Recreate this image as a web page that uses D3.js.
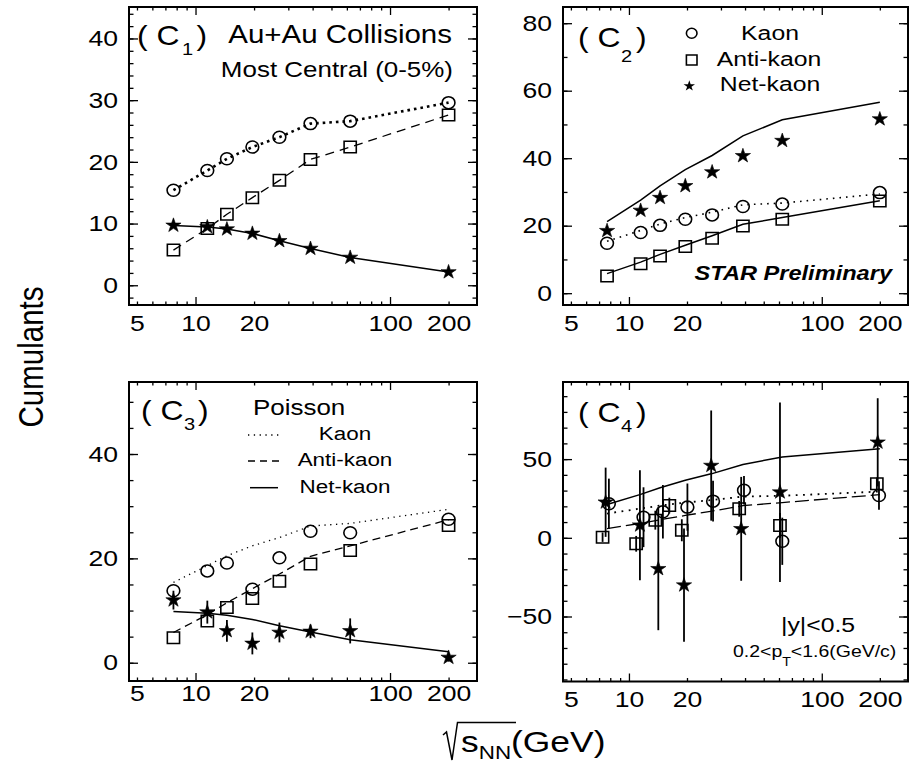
<!DOCTYPE html>
<html>
<head>
<meta charset="utf-8">
<script src="https://cdn.jsdelivr.net/npm/d3@7"></script>
<style>
  html, body { margin: 0; padding: 0; background: #fff; }
  svg text { font-family: "Liberation Sans", Arial, Helvetica, sans-serif; fill: #000; }
</style>
</head>
<body>
<svg id="chart" width="915" height="764"></svg>
<script>
// beam energies (GeV)
var energies = [7.7, 11.5, 14.5, 19.6, 27, 39, 62.4, 200];

// C1
var c1Kaon = [15.4, 18.6, 20.5, 22.4, 24.0, 26.2, 26.6, 29.6];
var c1AntiKaon = [5.7, 9.2, 11.5, 14.2, 17.0, 20.4, 22.4, 27.6];
var c1NetKaon = [9.7, 9.45, 9.1, 8.4, 7.2, 5.95, 4.5, 2.15];

// C2
var c2Kaon = [14.8, 18.0, 20.1, 21.9, 23.2, 25.7, 26.4, 29.8];
var c2AntiKaon = [5.1, 8.7, 11.0, 13.8, 16.3, 19.9, 21.9, 27.3];
var c2NetKaon = [18.5, 24.5, 28.3, 31.8, 35.9, 40.7, 45.2, 51.6];

// C3
var c3Kaon = [13.8, 17.6, 19.1, 14.1, 20.1, 25.2, 24.9, 27.5];
var c3AntiKaon = [4.8, 8.0, 10.6, 12.3, 15.6, 18.9, 21.5, 26.3];
var c3NetKaon = [12.0, 9.7, 6.1, 3.7, 5.8, 6.0, 6.1, 1.0];
var c3NetKaonErr = [1.8, 2.2, 2.1, 2.1, 1.9, 1.3, 2.4, 0.8];

// C4 (points drawn slightly shifted in energy)
var c4KaonE = [7.87, 11.9, 15.0, 20.1, 27.3, 39.5, 62.4, 198];
var c4Kaon = [21.6, 13.1, 16.5, 19.5, 23.3, 30.2, -2.2, 26.9];
var c4KaonErr = [16, 19, 17, 15, 13, 9, 15, 9];
var c4AntiKaonE = [7.3, 10.9, 13.7, 16.2, 18.8, 37.3, 60.7, 193];
var c4AntiKaon = [0.4, -3.8, 11.2, 20.5, 4.8, 18.4, 7.8, 34.3];
var c4AntiKaonErr = [3, 5, 6, 5, 7, 5, 8, 4];
var c4NetKaonE = [7.57, 11.4, 14.2, 19.3, 26.7, 38.2, 60.7, 195];
var c4NetKaon = [22.6, 8.0, -19.7, -30.1, 45.9, 5.7, 29.0, 60.7];
var c4NetKaonErr = [22, 35, 39, 36, 35, 33, 57, 28];

// Poisson baselines
var poissonKaon = [15.4, 18.6, 20.5, 22.4, 24.0, 26.2, 26.7, 29.4];
var poissonAntiKaon = [5.8, 9.2, 11.5, 14.2, 17.0, 20.4, 22.4, 27.4];
var poissonNetOdd = [9.8, 9.5, 9.1, 8.3, 7.1, 5.9, 4.4, 2.1];
var poissonNetEven = [21.2, 27.6, 31.8, 36.6, 40.8, 46.6, 51.4, 56.6];

// axis ticks
var xDomain = [4.55, 280];
var xTickLabels = [5, 10, 20, 100, 200];
var xMajorTicks = [10, 100];
var xMinorTicks = [5, 6, 7, 8, 9, 20, 30, 40, 50, 60, 70, 80, 90, 200];

var SX = 1.18; // the original figure is stretched sideways

var svg = d3.select('#chart');

var panels = [
  { left: 129, right: 477, top: 7, bottom: 305, yDomain: [-3.2, 45.1], yLabels: [0, 10, 20, 30, 40], yStep: 2, xPad: 10,
    tag: { x: 137, y: 45, n: '1', nx: 182, ny: 55, cx: 196.5 } },
  { left: 563, right: 908, top: 7, bottom: 305, yDomain: [-3.5, 84.8], yLabels: [0, 20, 40, 60, 80], yStep: 10, xPad: 10,
    tag: { x: 578, y: 46.5, n: '2', nx: 621, ny: 62, cx: 636 } },
  { left: 129, right: 477, top: 382, bottom: 681, yDomain: [-3.5, 53.8], yLabels: [0, 20, 40], yStep: 5, xPad: 3.6,
    tag: { x: 141, y: 420, n: '3', nx: 184, ny: 430, cx: 198 } },
  { left: 563, right: 908, top: 382, bottom: 681.5, yDomain: [-91.3, 99], yLabels: [-50, 0, 50], yStep: 10, xPad: 9.3,
    tag: { x: 578, y: 421.5, n: '4', nx: 621, ny: 432, cx: 636 } }
];

function text(g, x, y, str, size, anchor) {
  return g.append('text')
    .attr('transform', 'translate(' + x + ',' + y + ') scale(' + SX + ',1)')
    .attr('font-size', size)
    .attr('text-anchor', anchor || 'start')
    .text(str);
}

function styleAxis(sel) {
  sel.select('.domain').remove();
  sel.attr('font-size', 22.5).attr('font-family', null);
  sel.selectAll('line').attr('stroke-width', 1.3);
  sel.selectAll('text').attr('transform', 'scale(' + SX + ',1)');
}

function setup(p) {
  p.g = svg.append('g');
  p.x = d3.scaleLog().domain(xDomain).range([p.left, p.right]);
  p.y = d3.scaleLinear().domain(p.yDomain).range([p.bottom, p.top]);
  var g = p.g;
  var yMinor = d3.range(Math.ceil(p.yDomain[0] / p.yStep) * p.yStep, p.yDomain[1], p.yStep);

  // bottom / top
  g.append('g').attr('transform', 'translate(0,' + p.bottom + ')')
    .call(d3.axisBottom(p.x).tickValues(xMinorTicks).tickSize(-3.5).tickFormat('')).call(styleAxis);
  g.append('g').attr('transform', 'translate(0,' + p.bottom + ')')
    .call(d3.axisBottom(p.x).tickValues(xMajorTicks).tickSize(-8).tickFormat('')).call(styleAxis);
  g.append('g').attr('transform', 'translate(0,' + p.bottom + ')')
    .call(d3.axisBottom(p.x).tickValues(xTickLabels).tickSize(0).tickPadding(p.xPad).tickFormat(d3.format('d'))).call(styleAxis);
  g.append('g').attr('transform', 'translate(0,' + p.top + ')')
    .call(d3.axisTop(p.x).tickValues(xMinorTicks).tickSize(-3.5).tickFormat('')).call(styleAxis);
  g.append('g').attr('transform', 'translate(0,' + p.top + ')')
    .call(d3.axisTop(p.x).tickValues(xMajorTicks).tickSize(-8).tickFormat('')).call(styleAxis);

  // left / right
  g.append('g').attr('transform', 'translate(' + p.left + ',0)')
    .call(d3.axisLeft(p.y).tickValues(yMinor).tickSize(-4.5).tickFormat('')).call(styleAxis);
  g.append('g').attr('transform', 'translate(' + p.left + ',0)')
    .call(d3.axisLeft(p.y).tickValues(p.yLabels).tickSize(-9).tickPadding(11 / SX).tickFormat(d3.format('d'))).call(styleAxis);
  g.append('g').attr('transform', 'translate(' + p.right + ',0)')
    .call(d3.axisRight(p.y).tickValues(yMinor).tickSize(-4.5).tickFormat('')).call(styleAxis);
  g.append('g').attr('transform', 'translate(' + p.right + ',0)')
    .call(d3.axisRight(p.y).tickValues(p.yLabels).tickSize(-9).tickFormat('')).call(styleAxis);

  g.append('rect')
    .attr('x', p.left).attr('y', p.top)
    .attr('width', p.right - p.left).attr('height', p.bottom - p.top)
    .attr('fill', 'none').attr('stroke', '#000').attr('stroke-width', 2);

  // ( Cn ) tag
  var t = p.tag;
  text(g, t.x, t.y, '( C', 27);
  text(g, t.nx, t.ny, t.n, 17);
  text(g, t.cx, t.y, ')', 27);
}

function line(p, xs, ys, width, dash) {
  var gen = d3.line().x(function(d) { return p.x(d[0]); }).y(function(d) { return p.y(d[1]); });
  p.g.append('path')
    .attr('d', gen(d3.zip(xs, ys)))
    .attr('fill', 'none').attr('stroke', '#000')
    .attr('stroke-width', width)
    .attr('stroke-dasharray', dash || null);
}

var symbols = {
  circle: d3.symbol().type(d3.symbolCircle).size(Math.PI * 36)(),
  square: d3.symbol().type(d3.symbolSquare).size(11.5 * 11.5)(),
  star: d3.symbol().type(d3.symbolStar).size(64)()
};

function markers(p, xs, ys, shape, errs) {
  if (errs) {
    p.g.selectAll(null).data(d3.zip(xs, ys, errs)).enter().append('line')
      .attr('x1', function(d) { return p.x(d[0]); })
      .attr('x2', function(d) { return p.x(d[0]); })
      .attr('y1', function(d) { return p.y(d[1] - d[2]); })
      .attr('y2', function(d) { return p.y(d[1] + d[2]); })
      .attr('stroke', '#000').attr('stroke-width', 1.8);
  }
  p.g.selectAll(null).data(d3.zip(xs, ys)).enter().append('path')
    .attr('d', symbols[shape])
    .attr('transform', function(d) { return 'translate(' + p.x(d[0]) + ',' + p.y(d[1]) + ') scale(1.06,1)'; })
    .attr('fill', shape === 'star' ? '#000' : 'none')
    .attr('stroke', '#000')
    .attr('stroke-width', shape === 'star' ? 0.6 : 1.5);
}

panels.forEach(setup);
var p1 = panels[0], p2 = panels[1], p3 = panels[2], p4 = panels[3];

// C1
line(p1, energies, c1Kaon, 2.6, '2.6 4');
line(p1, energies, c1AntiKaon, 1.3, '9 6');
line(p1, energies, c1NetKaon, 1.5);
markers(p1, energies, c1Kaon, 'circle');
markers(p1, energies, c1AntiKaon, 'square');
markers(p1, energies, c1NetKaon, 'star');
text(p1.g, 452, 43.3, 'Au+Au Collisions', 25, 'end');
text(p1.g, 453, 76.7, 'Most Central (0-5%)', 22, 'end');

// C2
line(p2, energies, poissonKaon, 1.6, '1.6 5');
line(p2, energies, poissonAntiKaon, 1.5);
line(p2, energies, poissonNetEven, 1.5);
markers(p2, energies, c2Kaon, 'circle');
markers(p2, energies, c2AntiKaon, 'square');
markers(p2, energies, c2NetKaon, 'star');
// legend
var lg = p2.g;
lg.append('path').attr('d', d3.symbol().type(d3.symbolCircle).size(Math.PI * 25)())
  .attr('transform', 'translate(691.7,33.3) scale(1.06,1)').attr('fill', 'none').attr('stroke', '#000').attr('stroke-width', 1.5);
lg.append('path').attr('d', d3.symbol().type(d3.symbolSquare).size(100)())
  .attr('transform', 'translate(691.7,60) scale(1.06,1)').attr('fill', 'none').attr('stroke', '#000').attr('stroke-width', 1.5);
lg.append('path').attr('d', d3.symbol().type(d3.symbolStar).size(36)())
  .attr('transform', 'translate(689.3,86) scale(1.06,1)').attr('fill', '#000');
text(lg, 770, 40, 'Kaon', 21, 'middle');
text(lg, 769, 66.3, 'Anti-kaon', 21, 'middle');
text(lg, 770, 90.7, 'Net-kaon', 21, 'middle');
text(lg, 892, 280, 'STAR Preliminary', 20, 'end')
  .attr('font-weight', 'bold').attr('font-style', 'italic');

// C3
line(p3, energies, poissonKaon, 1.3, '1.3 4.5');
line(p3, energies, poissonAntiKaon, 1.3, '8 5');
line(p3, energies, poissonNetOdd, 1.5);
markers(p3, energies, c3Kaon, 'circle');
markers(p3, energies, c3AntiKaon, 'square');
markers(p3, energies, c3NetKaon, 'star', c3NetKaonErr);
var g3 = p3.g;
text(g3, 253, 415, 'Poisson', 22);
g3.append('line').attr('x1', 248).attr('x2', 279).attr('y1', 435).attr('y2', 435)
  .attr('stroke', '#000').attr('stroke-width', 1.3).attr('stroke-dasharray', '1.3 4.5');
g3.append('line').attr('x1', 248).attr('x2', 279).attr('y1', 461).attr('y2', 461)
  .attr('stroke', '#000').attr('stroke-width', 1.3).attr('stroke-dasharray', '7 5');
g3.append('line').attr('x1', 250).attr('x2', 278).attr('y1', 487.7).attr('y2', 487.7)
  .attr('stroke', '#000').attr('stroke-width', 1.5);
text(g3, 345, 440, 'Kaon', 19, 'middle');
text(g3, 345, 466, 'Anti-kaon', 19, 'middle');
text(g3, 345, 492.7, 'Net-kaon', 19, 'middle');

// C4
line(p4, energies, poissonNetEven, 1.5);
line(p4, energies, poissonKaon, 1.8, '1.8 5.5');
line(p4, energies, poissonAntiKaon, 1.3, '14 5');
markers(p4, c4KaonE, c4Kaon, 'circle', c4KaonErr);
markers(p4, c4AntiKaonE, c4AntiKaon, 'square', c4AntiKaonErr);
markers(p4, c4NetKaonE, c4NetKaon, 'star', c4NetKaonErr);
var g4 = p4.g;
text(g4, 781, 631.7, '|y|<0.5', 21);
var pt = g4.append('text')
  .attr('transform', 'translate(733,656.7) scale(' + SX + ',1)')
  .attr('font-size', 16.5);
pt.append('tspan').text('0.2<p');
pt.append('tspan').attr('font-size', 12).attr('dy', 9).text('T');
pt.append('tspan').attr('dy', -9).text('<1.6(GeV/c)');

// axis titles
svg.append('text')
  .attr('transform', 'translate(43,357) scale(' + SX + ',1) rotate(-90)')
  .attr('font-size', 29.5).attr('text-anchor', 'middle')
  .text('Cumulants');

svg.append('path')
  .attr('d', 'M443,735 L446.5,732 L452,760 L457.5,722.5 L516,722.5')
  .attr('fill', 'none').attr('stroke', '#000').attr('stroke-width', 1.5);
var xt = svg.append('text')
  .attr('transform', 'translate(461,752) scale(' + SX + ',1)')
  .attr('font-size', 30);
xt.append('tspan').text('s');
xt.append('tspan').attr('font-size', 19).attr('dy', 6.5).text('NN');
xt.append('tspan').attr('dy', -6.5).text('(GeV)');
</script>
</body>
</html>
